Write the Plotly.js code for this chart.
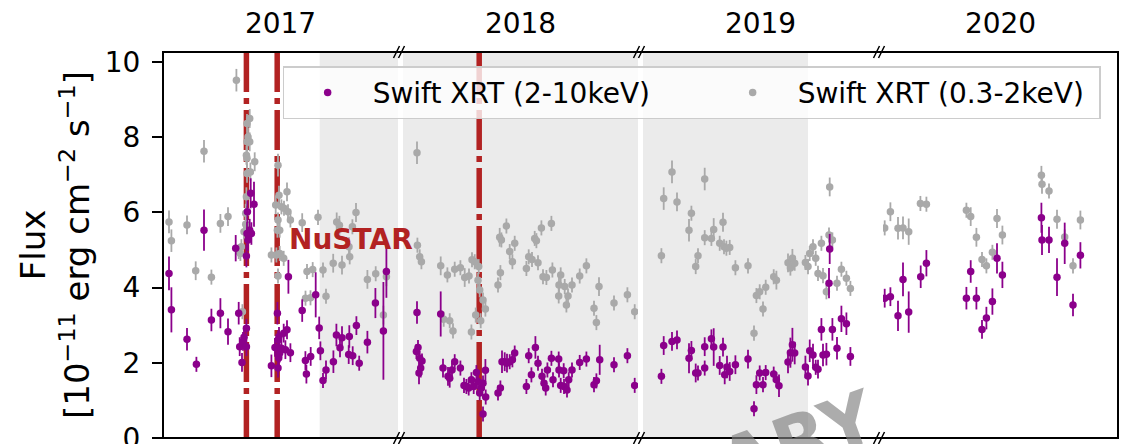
<!DOCTYPE html>
<html><head><meta charset="utf-8">
<script src="https://cdn.plot.ly/plotly-3.0.1.min.js"></script>
<style>html,body{margin:0;padding:0;background:#fff;}#chart{width:1128px;height:444px;}</style>
</head><body><div id="chart"></div>
<script>
// ---- season panels (broken time axis) ----
const seasons = ['2017', '2018', '2019', '2020'];
const seasonDays = 235;            // days shown in each season panel

// ---- Swift XRT 0.3-2 keV (grey) : day in season, flux, error ----
const soft2017Day  = [6,8.4,24,32.7,41,48.4,57.4,65,73.4,86.7,84,85,84,86.7,83.4,84,91.7,84,87.4,83.4,82.7,82.7,81,78.4,75.7,77.4,79.4,115,112.7,116,124,118.4,121,125,127.4,115,114.4,116.7,108.4,113.4,116.7,120.7,115,139.2,155,173.7,176.4,193,189.4,186,186.7,170.2,179,160,149.7,144,204.4,212.7,223.4,220.4,142.5,147.5,163];
const soft2017Flux = [5.75,5.25,5.67,4.45,7.63,4.28,5.71,5.89,9.52,8.50,8.37,8.01,7.88,7.88,7.52,7.44,7.35,7.04,7.08,6.42,5.98,5.69,5.49,5.09,4.96,4.91,3.36,7.26,6.20,6.46,6.55,6.15,6.11,6.02,5.80,5.80,5.53,5.53,4.87,4.87,4.91,4.78,4.31,5.73,5.87,5.75,5.66,6.00,5.62,5.09,4.82,4.65,4.60,4.47,4.48,4.43,4.22,4.37,4.29,3.27,3.72,3.73,3.77];
const soft2017Err  = [0.3,0.3,0.25,0.25,0.3,0.2,0.25,0.25,0.3,0.25,0.25,0.25,0.25,0.25,0.25,0.25,0.25,0.25,0.25,0.25,0.25,0.2,0.2,0.2,0.2,0.2,0.2,0.3,0.25,0.25,0.25,0.2,0.2,0.2,0.2,0.2,0.2,0.2,0.2,0.2,0.2,0.2,0.2,0.25,0.2,0.25,0.25,0.25,0.2,0.25,0.2,0.25,0.25,0.2,0.2,0.2,0.25,0.2,0.25,0.25,0.2,0.2,0.2];

const soft2018Day  = [14,14.4,16.7,18.4,37.7,44.4,51.7,57.4,61.7,66,69,71.7,75.7,75,76.7,80,82.4,72.7,77.7,68.4,40.7,46.7,50,96.7,98.4,103.4,106.7,111.7,109.4,95,97.4,123.4,125.7,129,131.7,133.4,135,138.4,148.4,140,143.4,149.4,157.7,156,161.7,165,155.7,163.4,169,176.7,183.4,196,191,193.4,211,224.4,231.7];
const soft2018Flux = [7.59,5.13,4.82,4.69,4.58,4.34,4.49,4.53,4.27,4.31,4.74,4.69,4.56,4.20,3.94,3.67,3.43,3.27,3.12,2.82,3.16,3.12,2.85,5.34,5.27,5.64,4.96,5.18,4.69,4.07,4.40,4.51,4.82,4.75,5.31,5.25,4.66,5.59,5.71,4.29,4.27,4.47,4.34,4.07,4.03,3.78,3.78,3.54,4.07,4.31,4.58,4.03,3.45,3.07,3.59,3.81,3.36];
const soft2018Err  = [0.3,0.2,0.2,0.2,0.25,0.2,0.2,0.2,0.25,0.2,0.2,0.2,0.2,0.2,0.2,0.2,0.2,0.2,0.2,0.2,0.2,0.2,0.2,0.25,0.2,0.2,0.2,0.2,0.2,0.2,0.2,0.2,0.2,0.2,0.2,0.2,0.2,0.2,0.2,0.2,0.2,0.2,0.2,0.2,0.2,0.2,0.2,0.2,0.2,0.2,0.2,0.25,0.2,0.2,0.2,0.2,0.2];

const soft2019Day  = [18.4,20.7,29,34,46,48.4,55,52.7,61.7,61.7,68.4,70.7,80,76.7,81,83.4,86.7,92.4,105,111,113.4,116.7,120,122.7,130.7,133.4,145,147.4,149.4,151.7,162.4,165,166.7,170,172.7,175,178.4,180,183.4,186.7,186,189.4,194,198.4,203.4,207.4];
const soft2019Flux = [4.85,6.37,7.08,6.28,5.53,5.98,4.85,4.56,6.89,5.33,5.31,5.55,5.74,5.18,5.09,5.05,5.07,4.53,4.58,2.79,3.79,3.89,3.43,4.01,4.29,4.20,4.66,4.52,4.78,4.65,4.67,4.56,4.91,5.09,4.78,4.38,5.18,4.32,3.89,6.68,5.40,5.27,4.12,4.49,4.25,3.98];
const soft2019Err  = [0.2,0.3,0.3,0.25,0.3,0.2,0.2,0.2,0.3,0.2,0.2,0.3,0.25,0.2,0.2,0.2,0.2,0.2,0.2,0.2,0.2,0.2,0.2,0.2,0.2,0.25,0.25,0.2,0.25,0.2,0.2,0.2,0.2,0.2,0.2,0.2,0.2,0.2,0.2,0.25,0.2,0.2,0.2,0.2,0.2,0.2];

const soft2020Day  = [1.7,7.4,15,20,25.7,37.4,43.4,83.4,87.7,93.4,99,103.4,109.4,114,119.4,158.4,159,166,174,181.7,190,197.4];
const soft2020Flux = [5.59,6.02,5.58,5.59,5.49,6.24,6.22,6.06,5.89,5.34,4.75,4.58,4.94,5.84,5.40,6.99,6.75,6.57,5.82,5.35,4.58,5.80];
const soft2020Err  = [0.2,0.25,0.3,0.3,0.35,0.2,0.2,0.2,0.25,0.25,0.2,0.2,0.2,0.25,0.25,0.25,0.25,0.2,0.25,0.2,0.2,0.25];

// ---- Swift XRT 2-10 keV (purple) : day in season, flux, error ----
const hard2017Day  = [6,8.4,24,33.4,41,48.4,57.4,65,72.7,75.7,76.7,79,80,81,83.4,83.4,83.4,84,84.4,85,86.7,88.4,87.7,91,114.4,115,116,112,108.4,115,116.7,118.4,120.7,124,122.4,127.4,125.4,115.7,139.2,142.4,143.4,147.7,152.7,156.2,157.4,160,163,170.4,173.4,177,179,186.3,185.7,189.7,193.4,196.2,204.4,212.4,220.4,223.4];
const hard2017Flux = [4.38,3.41,2.63,1.96,5.53,3.14,3.32,2.83,5.05,3.32,2.43,2.01,2.57,2.68,2.92,2.43,4.84,5.44,6.02,5.27,5.53,5.44,6.51,6.22,3.32,2.61,2.70,2.41,1.92,1.86,2.26,2.39,2.79,2.88,2.35,2.27,4.29,2.13,3.39,2.06,1.70,2.17,3.81,2.93,2.32,1.53,1.81,2.03,2.74,2.40,2.67,2.70,2.22,2.19,2.99,1.99,2.55,3.59,2.85,4.43];
const hard2017Err  = [0.45,0.6,0.3,0.2,0.55,0.3,0.4,0.35,0.35,0.3,0.25,0.25,0.25,0.25,0.25,0.25,0.3,0.3,0.3,0.3,0.3,0.3,0.4,0.6,0.3,0.25,0.25,0.25,0.3,0.25,0.25,0.25,0.25,0.25,0.25,0.25,0.45,0.25,0.3,0.25,0.25,0.25,0.6,0.3,0.25,0.2,0.25,0.3,0.3,0.25,0.3,0.3,0.25,0.25,0.25,0.2,0.3,0.4,1.3,0.7];

const hard2018Day  = [14,37.7,13.4,15,16.7,19,17.7,16,40,45,46.7,49,51.7,57.4,61,63.4,65.7,68.4,70.7,73.4,75,76.7,78.4,80,82.4,82.7,80,95,97.4,99,101.7,104,106.7,109.4,111.7,123.4,125.7,128.4,132.4,135,139,141,142.7,144.4,148.4,150,155.7,156,157.7,160.7,161,164,165.7,169,176.7,183.4,191,193.4,196.7,211,224.4,231.7];
const hard2018Flux = [3.34,3.30,2.30,2.41,2.12,2.05,1.86,1.73,1.86,1.64,1.59,1.81,2.03,1.86,1.40,1.37,1.33,1.55,1.37,1.74,1.50,1.20,1.33,1.46,1.80,1.09,0.64,1.20,1.33,2.03,2.03,1.99,2.03,2.08,2.26,1.37,2.19,1.68,2.41,1.99,1.64,1.46,1.33,1.81,2.12,1.55,2.10,1.81,1.40,1.79,1.37,1.28,1.55,1.81,2.01,2.10,1.42,1.52,2.08,1.95,2.19,1.40];
const hard2018Err  = [0.3,0.6,0.2,0.2,0.2,0.2,0.25,0.3,0.25,0.25,0.25,0.2,0.2,0.2,0.2,0.2,0.2,0.2,0.2,0.2,0.2,0.2,0.2,0.2,0.3,0.2,0.2,0.2,0.2,0.3,0.25,0.25,0.2,0.2,0.2,0.2,0.2,0.2,0.3,0.2,0.2,0.2,0.2,0.2,0.2,0.2,0.2,0.2,0.2,0.2,0.2,0.2,0.2,0.2,0.2,0.2,0.2,0.2,0.4,0.2,0.2,0.2];

const hard2019Day  = [18.4,20.7,29,34,46,48.4,52.7,55,61.7,61.7,68.4,70.7,80,76.7,81.7,84,86.7,92.4,105,111,113.4,116.7,120,122.7,130.7,133.4,136,145,147.4,149.4,151.7,162.4,165,166.7,170,172.7,175,178.4,180,183.4,186.7,186,189.4,194,198.4,203.4,207.4];
const hard2019Flux = [1.64,2.46,2.57,2.61,2.12,2.33,1.73,1.73,1.86,2.43,2.64,2.42,2.42,1.93,1.68,1.89,1.77,1.95,2.10,0.78,1.42,1.73,1.42,1.74,1.70,1.55,1.39,2.02,2.27,2.48,2.26,1.89,1.65,2.32,2.21,1.88,1.83,2.89,2.21,2.23,5.03,4.12,2.89,2.39,3.17,3.04,2.17];
const hard2019Err  = [0.2,0.25,0.25,0.25,0.4,0.25,0.25,0.2,0.2,0.25,0.25,0.5,0.25,0.25,0.25,0.3,0.25,0.25,0.25,0.2,0.25,0.2,0.2,0.2,0.2,0.2,0.3,0.3,0.4,0.45,0.3,0.3,0.25,0.3,0.3,0.2,0.25,0.3,0.3,0.3,0.4,0.4,0.3,0.3,0.35,0.3,0.25];

const hard2020Day  = [1.7,7.4,15,20,25.7,37.7,43.4,83.4,87.7,93.4,99,103.4,109.4,114,119.4,158.4,159,166,174,181.7,190,197.4];
const hard2020Flux = [3.72,3.76,3.25,4.22,3.35,4.29,4.65,3.72,4.43,3.72,2.89,3.19,3.63,4.78,4.34,5.86,5.27,5.27,4.28,5.18,3.54,4.86];
const hard2020Err  = [0.25,0.25,0.4,0.45,0.55,0.3,0.35,0.3,0.3,0.3,0.25,0.3,0.35,0.4,0.35,0.4,0.4,0.35,0.5,0.55,0.3,0.35];

// ---- NuSTAR pointings (season index, day in season) ----
const nustarSeason = [0, 0, 1];
const nustarDay    = [83.4, 114.2, 76.2];

// ---- shaded intervals (season index, start day, end day) ----
const shadeSeason = [0, 1, 2];
const shadeStart  = [156.7, 0, 0];
const shadeEnd    = [235, 235, 165];

// ---------------------------------------------------------------
const FONT = 'DejaVu Sans';
const PURPLE = '#8b008b', GREY = '#a9a9a9', RED = '#b22222';
const gap = 0.00524, w = (1 - 3 * gap) / 4;
const dom = [0, 1, 2, 3].map(i => [i * (w + gap), i * (w + gap) + w]);
const xName = i => (i === 0 ? 'x' : 'x' + (i + 1));
const axKey = i => (i === 0 ? 'xaxis' : 'xaxis' + (i + 1));

const softD = [soft2017Day, soft2018Day, soft2019Day, soft2020Day];
const softF = [soft2017Flux, soft2018Flux, soft2019Flux, soft2020Flux];
const softE = [soft2017Err, soft2018Err, soft2019Err, soft2020Err];
const hardD = [hard2017Day, hard2018Day, hard2019Day, hard2020Day];
const hardF = [hard2017Flux, hard2018Flux, hard2019Flux, hard2020Flux];
const hardE = [hard2017Err, hard2018Err, hard2019Err, hard2020Err];

function tr(x, y, e, color, name, i, rank, lw) {
  return {
    type: 'scatter', mode: 'markers', x: x, y: y, xaxis: xName(i), yaxis: 'y',
    name: name, legendgroup: name, showlegend: i === 0, legendrank: rank, legendwidth: lw,
    marker: { color: color, size: 7.5 },
    error_y: { type: 'data', array: e, visible: true, color: color, thickness: 1.8, width: 0 },
    hoverinfo: 'skip'
  };
}
const data = [];
for (let i = 0; i < 4; i++) data.push(tr(softD[i], softF[i], softE[i], GREY, 'Swift XRT (0.3-2keV)', i, 2, 296));
for (let i = 0; i < 4; i++) data.push(tr(hardD[i], hardF[i], hardE[i], PURPLE, 'Swift XRT (2-10keV)', i, 1, 330));

const layout = {
  width: 1128, height: 444,
  margin: { l: 163, r: 10, t: 52, b: 6 },
  paper_bgcolor: '#fff', plot_bgcolor: 'rgba(0,0,0,0)',
  font: { family: FONT, size: 28, color: '#000' },
  showlegend: true,
  legend: {
    orientation: 'h', x: 0.1253, y: 0.963, xanchor: 'left', yanchor: 'top',
    bgcolor: 'rgba(255,255,255,0.8)', bordercolor: '#cccccc', borderwidth: 1.5,
    font: { family: FONT, size: 28, color: '#000' }, itemwidth: 80
  },
  yaxis: {
    range: [0, 10.27], tickvals: [0, 2, 4, 6, 8, 10], ticks: 'outside', ticklen: 10, tickwidth: 2,
    tickcolor: '#000', showgrid: false, zeroline: false, showline: false, ticklabelstandoff: 6,
    ticklabeloverflow: 'allow',
    tickfont: { family: FONT, size: 28 }, anchor: 'x',
    title: { text: 'Flux<br>[10<sup>\u221211</sup> erg cm<sup>\u22122</sup> s<sup>\u22121</sup>]', font: { family: FONT, size: 34 }, standoff: 4 }
  },
  shapes: [], annotations: []
};
for (let i = 0; i < 4; i++) {
  layout[axKey(i)] = {
    domain: dom[i], range: [0, seasonDays], anchor: 'y', side: 'top',
    tickvals: [seasonDays / 2], ticktext: [seasons[i]], ticks: '', showgrid: false, zeroline: false,
    showline: false, tickfont: { family: FONT, size: 28 }, ticklabelstandoff: 12
  };
}
// shaded periods
for (let k = 0; k < shadeSeason.length; k++) {
  layout.shapes.push({ type: 'rect', xref: xName(shadeSeason[k]), yref: 'paper', x0: shadeStart[k], x1: shadeEnd[k], y0: 0, y1: 1,
    fillcolor: '#ebebeb', line: { width: 0 }, layer: 'below' });
}
// NuSTAR lines
for (let k = 0; k < nustarDay.length; k++) {
  layout.shapes.push({ type: 'line', xref: xName(nustarSeason[k]), yref: 'paper', x0: nustarDay[k], x1: nustarDay[k], y0: 1, y1: 0,
    line: { color: RED, width: 5.5, dash: '40px,6px,6px,6px' }, layer: 'below' });
}
// frame
layout.shapes.push({ type: 'rect', xref: 'paper', yref: 'paper', x0: 0, x1: 1, y0: 0, y1: 1,
  line: { color: '#000', width: 2 }, fillcolor: 'rgba(0,0,0,0)', layer: 'above' });
// break marks
for (let i = 0; i < 3; i++) {
  const bx = dom[i][1] + gap / 2;
  [0, 1].forEach(by => {
    layout.shapes.push({ type: 'path', xref: 'paper', yref: 'paper', xsizemode: 'pixel', ysizemode: 'pixel',
      xanchor: bx, yanchor: by, path: 'M-7,-6 L-1,6 M-2,-6 L4,6', line: { color: '#000', width: 1.5 }, layer: 'above' });
  });
}
layout.annotations.push({ xref: 'x', yref: 'y', x: 124, y: 5.27, xanchor: 'left', yanchor: 'middle', showarrow: false,
  text: 'NuSTAR', font: { family: FONT, size: 28, color: RED, weight: 'bold' } });
layout.annotations.push({ xref: 'paper', yref: 'paper', x: 0.474, y: -0.18, xanchor: 'center', yanchor: 'middle', showarrow: false,
  text: 'PRELIMINARY', textangle: -20, font: { family: FONT, size: 72, color: 'rgba(128,128,128,0.65)', weight: 'bold' } });

Plotly.newPlot('chart', data, layout, { displayModeBar: false, staticPlot: true });
</script></body></html>
